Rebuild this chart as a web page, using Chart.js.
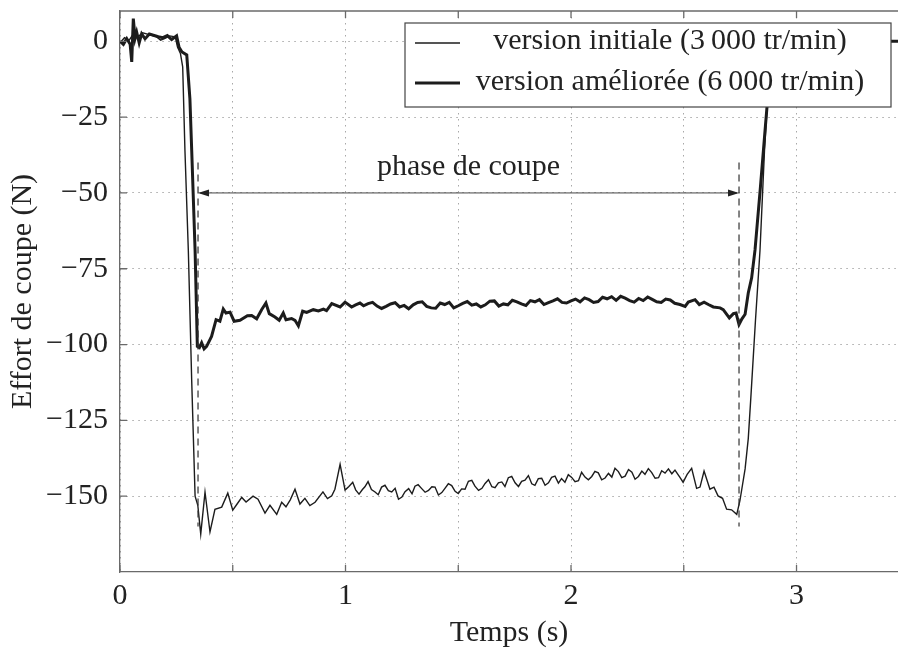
<!DOCTYPE html>
<html>
<head>
<meta charset="utf-8">
<script src="https://cdn.jsdelivr.net/npm/chart.js@4.4.1/dist/chart.umd.min.js"></script>
<style>
  html, body { margin: 0; padding: 0; background: #fff; }
  #wrap { width: 898px; height: 651px; }
</style>
</head>
<body>
<div id="wrap"><canvas id="chart" width="898" height="651"></canvas></div>
<script>
// version initiale (3 000 tr/min) - thin line
const timeInit = [
  0, 0.02, 0.04, 0.06, 0.08, 0.1, 0.13, 0.16, 0.18, 0.2, 0.22, 0.245, 0.255, 0.268, 0.278, 0.288, 0.303, 0.318, 0.333,
  0.345, 0.358, 0.377, 0.399, 0.421, 0.451, 0.478, 0.5, 0.52, 0.54, 0.559, 0.59, 0.612, 0.643, 0.665, 0.695, 0.717,
  0.736, 0.755, 0.776, 0.798, 0.82, 0.842, 0.865, 0.9, 0.92, 0.939, 0.953, 0.976, 0.998, 1.015, 1.032, 1.045, 1.06,
  1.075, 1.086, 1.1, 1.115, 1.131, 1.145, 1.16, 1.175, 1.19, 1.205, 1.22, 1.235, 1.25, 1.264, 1.28, 1.295, 1.308,
  1.322, 1.338, 1.353, 1.368, 1.383, 1.397, 1.412, 1.427, 1.441, 1.456, 1.471, 1.486, 1.5, 1.515, 1.53, 1.545, 1.56,
  1.574, 1.59, 1.605, 1.619, 1.634, 1.649, 1.663, 1.678, 1.693, 1.707, 1.722, 1.737, 1.752, 1.767, 1.781, 1.796,
  1.811, 1.826, 1.84, 1.855, 1.87, 1.885, 1.9, 1.914, 1.929, 1.944, 1.958, 1.973, 1.988, 2.003, 2.018, 2.033, 2.047,
  2.062, 2.077, 2.092, 2.106, 2.121, 2.136, 2.151, 2.166, 2.181, 2.195, 2.21, 2.225, 2.24, 2.255, 2.27, 2.284, 2.299,
  2.314, 2.328, 2.343, 2.358, 2.373, 2.388, 2.402, 2.417, 2.432, 2.447, 2.461, 2.483, 2.497, 2.515, 2.535, 2.557,
  2.572, 2.59, 2.616, 2.634, 2.652, 2.672, 2.69, 2.712, 2.735, 2.749, 2.772, 2.786, 2.797, 2.818, 2.838, 2.858,
  2.875, 2.89, 2.905, 3.0, 3.2, 3.45
];
const forceInit = [
  -0.5, 1.2, 0.3, 2.5, 1.5, 2.8, 2.2, 1.6, 0.4, 1.0, 1.8, 1.5, -1.9, -4, -8.4, -36, -69, -112, -150,
  -153, -162.5, -148.7, -161.8, -154.3, -153.6, -149, -154.6, -152.5, -150.4, -151.9, -150, -151, -155.6, -153, -156, -152,
  -153.5, -151.2, -147.7, -152.6, -150.7, -153.1, -152, -148.6, -150.8, -149.9, -147.7, -139.5, -148, -146.8, -145.4, -147.9, -149.3,
  -147.8, -146.9, -145.2, -147.8, -148.6, -149.5, -147, -146.4, -148.2, -148.6, -147.4, -151, -150.3, -148.5, -147.5, -149.2, -146.7,
  -146.2, -147.5, -148.7, -148.1, -146.9, -147, -149.6, -148.8, -147.4, -145.9, -146.5, -148.4, -149.1, -147.6, -147.7, -145.1, -144.8,
  -146.7, -148.1, -147.4, -145.8, -144.6, -146.9, -147.2, -145.6, -145.3, -146.8, -143.9, -143.5, -145.6, -146.8, -145.1, -144.7,
  -143.2, -145.9, -146.4, -144.2, -144.1, -146.4, -145.6, -143.8, -143.4, -145.7, -144.2, -145.4, -142.9, -143.8, -145.2, -144.9, -142.1,
  -143.7, -144.6, -143.5, -141.8, -142.3, -144.6, -144, -142.5, -143.7, -140.8, -141.9, -143.9, -143.4, -141.2, -142.1, -144.4, -143.5,
  -141.7, -142.8, -140.9, -142.2, -144.1, -143.9, -141.6, -142.4, -141, -142.6, -141.4, -143.8, -145.4, -142.8, -140.8, -147.4,
  -147, -141.7, -147.7, -147, -149.9, -150.7, -154.3, -154.5, -156, -151.5, -141, -131, -118, -92, -69, -36,
  -15, -3, 0, 0, 0, 0
];

// version améliorée (6 000 tr/min) - thick line
const timeImpr = [
  0, 0.015, 0.03, 0.045, 0.052, 0.059, 0.067, 0.074, 0.085, 0.096, 0.111, 0.13, 0.148, 0.17, 0.19, 0.21, 0.229, 0.251,
  0.262, 0.275, 0.296, 0.31, 0.318, 0.333, 0.343, 0.352, 0.362, 0.373, 0.384, 0.406, 0.426, 0.443, 0.458, 0.47, 0.488,
  0.506, 0.532, 0.565, 0.584, 0.606, 0.628, 0.647, 0.662, 0.687, 0.706, 0.724, 0.736, 0.761, 0.776, 0.791, 0.81,
  0.828, 0.857, 0.88, 0.902, 0.916, 0.939, 0.976, 0.998, 1.027, 1.045, 1.064, 1.08, 1.1, 1.12, 1.14, 1.16, 1.18,
  1.2, 1.22, 1.24, 1.26, 1.28, 1.3, 1.32, 1.34, 1.36, 1.38, 1.4, 1.42, 1.44, 1.46, 1.48, 1.5, 1.52, 1.54, 1.56, 1.58,
  1.6, 1.62, 1.64, 1.66, 1.68, 1.7, 1.72, 1.74, 1.76, 1.78, 1.8, 1.82, 1.84, 1.86, 1.88, 1.9, 1.92, 1.94, 1.96, 1.98,
  2.0, 2.02, 2.04, 2.06, 2.08, 2.1, 2.12, 2.14, 2.16, 2.18, 2.2, 2.22, 2.24, 2.26, 2.28, 2.3, 2.32, 2.34, 2.36, 2.38,
  2.4, 2.42, 2.44, 2.46, 2.483, 2.506, 2.52, 2.55, 2.569, 2.59, 2.609, 2.631, 2.661, 2.675, 2.702, 2.72, 2.732, 2.745,
  2.758, 2.772, 2.786, 2.801, 2.816, 2.84, 2.862, 2.88, 2.895, 2.91, 3.0, 3.2, 3.45
];
const forceImpr = [
  0, -1, 0.9, -1, -6.8, 7.5, 1, 3, -0.5, 2.5, 0.8, 2.4, 2, 1.5, 1.2, 1.9, 0.6, 1.8,
  -2, -3.5, -4.5, -19, -36, -69, -100.6, -101, -99.4, -101.4, -100.6, -97.3, -91.8, -92.3, -88.3, -89.6, -89.3,
  -92.3, -92, -90.5, -90.4, -91.5, -88.5, -86.3, -89.8, -90.9, -92, -89.6, -91.8, -91.4, -92, -93.8, -89,
  -89.4, -88.5, -88.9, -88.3, -88.8, -86.5, -87.6, -86, -87.6, -86.9, -86.3, -87.2, -86.5, -86.1, -87.3, -88.1, -87.4,
  -86.6, -86.2, -87.6, -87.1, -88.2, -86.9, -86.1, -85.9, -87.4, -87.9, -88, -86.3, -86.8, -86.1, -87.9, -87.2, -86.4, -85.8, -87, -86.6,
  -87.6, -86.9, -85.7, -85.6, -87.3, -86.6, -86.9, -85.4, -85.9, -86.6, -87.1, -85.5, -85.9, -85.2, -86.8, -86.2, -85.6, -84.9, -86.1, -86.3,
  -85.6, -85, -85.9, -84.6, -85.2, -86.1, -85.8, -84.4, -84.9, -84.2, -85.4, -84.1, -84.7, -85.5, -86, -84.8, -85.5, -84.3, -85.1, -85.9,
  -86.1, -85, -85.3, -86.4, -86.8, -87.4, -86, -85.2, -86.8, -86, -86.8, -87.6, -87.9, -88.5, -91.2, -89.8, -89.6, -93.4,
  -91.5, -90, -83, -78, -68.8, -48, -28, -12, -3, 0, 0, 0, 0
];

const xTicks = [0, 0.5, 1, 1.5, 2, 2.5, 3];
const yTicks = [-150, -125, -100, -75, -50, -25, 0];

const legendLabels = ["version initiale (3\u2009000 tr/min)", "version améliorée (6\u2009000 tr/min)"];

// phase de coupe markers
const phaseStart = 0.346;
const phaseEnd = 2.745;
const phaseArrowY = -50;
const phaseMarkTop = -40;
const phaseMarkBottom = -160;

const serif = "'Liberation Serif', 'Times New Roman', serif";
const ink = "#1c1c1c";
const frame = "#6a6a6a";

function toPoints(xs, ys) {
  return xs.map((v, i) => ({ x: v, y: ys[i] }));
}

const decorations = {
  id: "decorations",
  afterDatasetsDraw(chart) {
    const ctx = chart.ctx;
    const a = chart.chartArea;
    const x = chart.scales.x;
    const y = chart.scales.y;
    ctx.save();

    // top frame line and inward ticks
    ctx.strokeStyle = frame;
    ctx.lineWidth = 1.3;
    ctx.beginPath();
    ctx.moveTo(a.left, a.top);
    ctx.lineTo(a.right, a.top);
    ctx.stroke();
    ctx.beginPath();
    xTicks.forEach(function (v) {
      const px = x.getPixelForValue(v);
      ctx.moveTo(px, a.bottom);
      ctx.lineTo(px, a.bottom - 7);
      ctx.moveTo(px, a.top);
      ctx.lineTo(px, a.top + 7);
    });
    yTicks.forEach(function (v) {
      const py = y.getPixelForValue(v);
      ctx.moveTo(a.left, py);
      ctx.lineTo(a.left + 7, py);
    });
    ctx.stroke();

    // dashed limits of the cutting phase
    ctx.strokeStyle = "#333";
    ctx.lineWidth = 1.2;
    ctx.setLineDash([7, 5]);
    [phaseStart, phaseEnd].forEach(function (v) {
      const px = x.getPixelForValue(v);
      ctx.beginPath();
      ctx.moveTo(px, y.getPixelForValue(phaseMarkTop));
      ctx.lineTo(px, y.getPixelForValue(phaseMarkBottom));
      ctx.stroke();
    });
    ctx.setLineDash([]);

    // double arrow
    const x1 = x.getPixelForValue(phaseStart);
    const x2 = x.getPixelForValue(phaseEnd);
    const ay = y.getPixelForValue(phaseArrowY);
    ctx.strokeStyle = "#444";
    ctx.fillStyle = "#222";
    ctx.lineWidth = 1;
    ctx.beginPath();
    ctx.moveTo(x1 + 2, ay);
    ctx.lineTo(x2 - 2, ay);
    ctx.stroke();
    ctx.beginPath();
    ctx.moveTo(x1, ay);
    ctx.lineTo(x1 + 11, ay - 3.5);
    ctx.lineTo(x1 + 11, ay + 3.5);
    ctx.closePath();
    ctx.moveTo(x2, ay);
    ctx.lineTo(x2 - 11, ay - 3.5);
    ctx.lineTo(x2 - 11, ay + 3.5);
    ctx.closePath();
    ctx.fill();

    ctx.font = "30px " + serif;
    ctx.fillStyle = "#222";
    ctx.textAlign = "center";
    ctx.textBaseline = "alphabetic";
    ctx.fillText("phase de coupe", (x1 + x2) / 2, ay - 18);

    // legend box
    const bx = 405, by = 23, bw = 486, bh = 84;
    ctx.fillStyle = "#fff";
    ctx.fillRect(bx, by, bw, bh);
    ctx.strokeStyle = "#444";
    ctx.lineWidth = 1.2;
    ctx.strokeRect(bx, by, bw, bh);
    const rows = [{ w: 1.4, ly: 43, ty: 48.5 }, { w: 3, ly: 83, ty: 89.5 }];
    rows.forEach(function (r, i) {
      ctx.strokeStyle = ink;
      ctx.lineWidth = r.w;
      ctx.beginPath();
      ctx.moveTo(415, r.ly);
      ctx.lineTo(460, r.ly);
      ctx.stroke();
      ctx.fillStyle = "#222";
      ctx.textAlign = "center";
      ctx.fillText(legendLabels[i], 670, r.ty);
    });
    ctx.restore();
  },
};

const chart = new Chart(document.getElementById("chart"), {
  type: "line",
  data: {
    datasets: [
      {
        label: legendLabels[0],
        data: toPoints(timeInit, forceInit),
        borderColor: ink,
        borderWidth: 1.4,
        pointRadius: 0,
        tension: 0,
      },
      {
        label: legendLabels[1],
        data: toPoints(timeImpr, forceImpr),
        borderColor: ink,
        borderWidth: 3,
        pointRadius: 0,
        tension: 0,
      },
    ],
  },
  options: {
    responsive: false,
    animation: false,
    layout: { padding: { top: 11, right: 0, left: 0, bottom: 0 } },
    plugins: {
      legend: { display: false },
      tooltip: { enabled: false },
    },
    scales: {
      x: {
        type: "linear",
        min: 0,
        max: 3.45,
        afterBuildTicks: function (s) {
          s.ticks = xTicks.map((v) => ({ value: v }));
        },
        afterFit: function (s) {
          s.height = 79;
          s.paddingLeft = 0;
          s.paddingRight = 0;
        },
        ticks: {
          autoSkip: false,
          maxRotation: 0,
          padding: 6,
          color: "#222",
          font: { family: serif, size: 30 },
          callback: (v) => (Number.isInteger(v) ? String(v) : ""),
        },
        grid: { color: "#a8a8a8", lineWidth: 1, drawTicks: false },
        border: { color: frame, width: 1.3, dash: [1.5, 4.5] },
        title: {
          display: true,
          text: "Temps (s)",
          color: "#222",
          font: { family: serif, size: 30 },
          padding: 0,
        },
      },
      y: {
        min: -175,
        max: 10,
        afterBuildTicks: function (s) {
          s.ticks = yTicks.map((v) => ({ value: v }));
        },
        afterFit: function (s) {
          s.width = 120;
          s.paddingTop = 0;
          s.paddingBottom = 0;
        },
        ticks: {
          padding: 12,
          color: "#222",
          font: { family: serif, size: 30 },
          callback: (v) => (v === 0 ? "0" : "\u2212" + Math.abs(v)),
        },
        grid: { color: "#a8a8a8", lineWidth: 1, drawTicks: false },
        border: { color: frame, width: 1.3, dash: [1.5, 4.5] },
        title: {
          display: true,
          text: "Effort de coupe (N)",
          color: "#222",
          font: { family: serif, size: 30 },
          padding: { top: 5, bottom: 0 },
        },
      },
    },
  },
  plugins: [decorations],
});
</script>
</body>
</html>
